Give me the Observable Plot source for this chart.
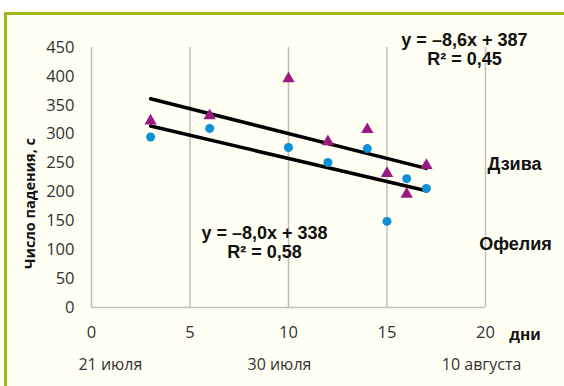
<!DOCTYPE html>
<html><head><meta charset="utf-8">
<script src="https://cdn.jsdelivr.net/npm/d3@7"></script>
<script src="https://cdn.jsdelivr.net/npm/@observablehq/plot@0.6"></script>
<style>
body{margin:0;background:#fff;}
#wrap{position:relative;width:564px;height:386px;overflow:hidden;}
#panel{position:absolute;left:4px;top:12px;width:620px;height:420px;border-left:3px solid #9cba1c;border-top:3px solid #9cba1c;background:#fffff3;}
#chart{position:absolute;left:0;top:0;}
</style></head><body>
<div id="wrap"><div id="panel"></div><div id="chart"></div></div>
<script>
// Data
const days = [3, 6, 10, 12, 14, 15, 16, 17];
const ofelia = [295, 310, 277, 251, 275, 149, 223, 206];
const dziva = [323, 332, 396, 287, 308, 232, 196, 246];
const xTicks = [0, 5, 10, 15, 20];
const yTicks = [0, 50, 100, 150, 200, 250, 300, 350, 400, 450];
const seriesNames = ["Дзива", "Офелия"];
const trendSlopes = [-8.6, -8.0];
const trendIntercepts = [387, 338];
const trendEquations = ["y = –8,6x + 387", "y = –8,0x + 338"];
const trendR2 = ["R² = 0,45", "R² = 0,58"];
const dateLabels = ["21 июля", "30 июля", "10 августа"];
const dateLabelX = [0.96, 9.54, 19.8];
const yTitle = "Число падения, с";
const xTitle = "дни";

const ofeliaData = days.map((d, i) => ({x: d, y: ofelia[i]}));
const dzivaData = days.map((d, i) => ({x: d, y: dziva[i]}));
const x0 = d3.min(days), x1 = d3.max(days);
const trend = (k) => [x0, x1].map(x => ({x, y: trendSlopes[k] * x + trendIntercepts[k]}));

const boldFont = "'Liberation Sans', Arial, sans-serif";
const plainFont = "'Open Sans', sans-serif";
const bold = {fontWeight: "bold", fontFamily: boldFont, fill: "#111"};

const chart = Plot.plot({
  width: 564,
  height: 386,
  marginLeft: 91,
  marginRight: 79,
  marginTop: 47,
  marginBottom: 79,
  style: {background: "transparent", fontFamily: plainFont, color: "#333"},
  x: {domain: [0, 20]},
  y: {domain: [0, 450]},
  marks: [
    Plot.ruleX(xTicks, {stroke: "#bfbfbf", strokeWidth: 1.5}),
    Plot.ruleY([0], {stroke: "#bfbfbf", strokeWidth: 1.5}),
    Plot.axisX({ticks: xTicks, tickSize: 0, tickPadding: 19, fontSize: 16.5, label: null, fill: "#333"}),
    Plot.axisY({ticks: yTicks, tickSize: 0, tickPadding: 17, fontSize: 16.5, label: null, fill: "#333"}),
    Plot.line(trend(0), {x: "x", y: "y", stroke: "#000", strokeWidth: 3.5}),
    Plot.line(trend(1), {x: "x", y: "y", stroke: "#000", strokeWidth: 3.5}),
    Plot.dot(dzivaData, {x: "x", y: "y", symbol: "triangle", r: 4.6, fill: "#9b1a80", stroke: null}),
    Plot.dot(ofeliaData, {x: "x", y: "y", r: 4.5, fill: "#0e8fd6", stroke: null}),
    // equations
    Plot.text([trendEquations[0]], {x: 18.93, y: 462, text: d => d, fontSize: 18, ...bold}),
    Plot.text([trendR2[0]], {x: 18.93, y: 429, text: d => d, fontSize: 18, ...bold}),
    Plot.text([trendEquations[1]], {x: 8.78, y: 128, text: d => d, fontSize: 18, ...bold}),
    Plot.text([trendR2[1]], {x: 8.78, y: 95, text: d => d, fontSize: 18, ...bold}),
    // series names
    Plot.text([seriesNames[0]], {x: 21.47, y: 247.5, text: d => d, fontSize: 18, ...bold}),
    Plot.text([seriesNames[1]], {x: 21.52, y: 109, text: d => d, fontSize: 18, ...bold}),
    // axis titles
    Plot.text([yTitle], {x: -3.1, y: 180, text: d => d, rotate: -90, fontSize: 14.5, fontWeight: "bold", fontFamily: plainFont, fill: "#111"}),
    Plot.text([xTitle], {x: 22.0, y: -46.7, text: d => d, fontSize: 17, ...bold}),
    // dates
    Plot.text(dateLabels, {x: (d, i) => dateLabelX[i], y: -100, text: d => d, fontSize: 16, fontFamily: plainFont, fill: "#333"})
  ]
});
document.getElementById("chart").appendChild(chart);
</script>
</body></html>
